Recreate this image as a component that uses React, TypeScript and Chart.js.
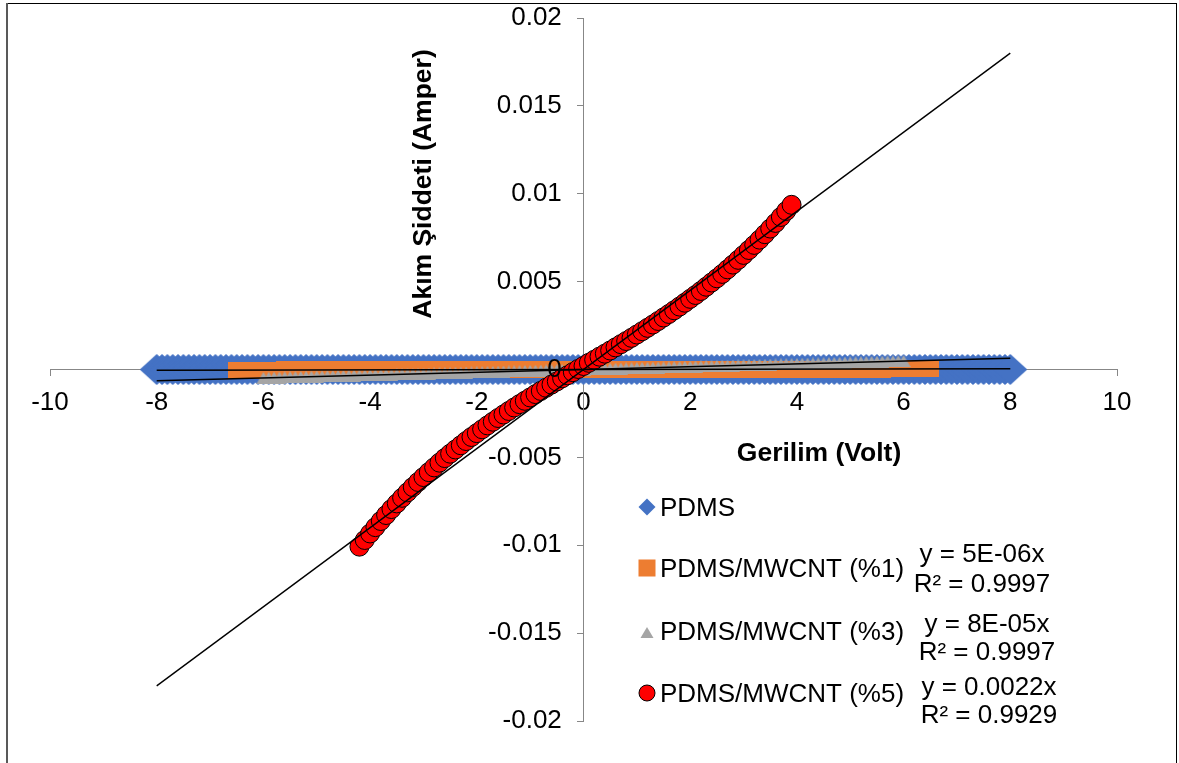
import React, { useEffect, useRef } from 'react';
import { Chart, registerables } from 'chart.js';

Chart.register(...registerables);

// ---------------- data ----------------
const seriesNames = ['PDMS', 'PDMS/MWCNT (%1)', 'PDMS/MWCNT (%3)', 'PDMS/MWCNT (%5)'];
const xAxisTitle = 'Gerilim (Volt)';
const yAxisTitle = 'Akım Şiddeti (Amper)';
const trendEquations = [
  null,
  ['y = 5E-06x', 'R² = 0.9997'],
  ['y = 8E-05x', 'R² = 0.9997'],
  ['y = 0.0022x', 'R² = 0.9929'],
];

// PDMS (voltage in V, current in nA)
const pdmsVoltage = [
  -8, -7.9, -7.8, -7.7, -7.6, -7.5, -7.4, -7.3, -7.2, -7.1,
  -7, -6.9, -6.8, -6.7, -6.6, -6.5, -6.4, -6.3, -6.2, -6.1,
  -6, -5.9, -5.8, -5.7, -5.6, -5.5, -5.4, -5.3, -5.2, -5.1,
  -5, -4.9, -4.8, -4.7, -4.6, -4.5, -4.4, -4.3, -4.2, -4.1,
  -4, -3.9, -3.8, -3.7, -3.6, -3.5, -3.4, -3.3, -3.2, -3.1,
  -3, -2.9, -2.8, -2.7, -2.6, -2.5, -2.4, -2.3, -2.2, -2.1,
  -2, -1.9, -1.8, -1.7, -1.6, -1.5, -1.4, -1.3, -1.2, -1.1,
  -1, -0.9, -0.8, -0.7, -0.6, -0.5, -0.4, -0.3, -0.2, -0.1,
  0,
  0.1, 0.2, 0.3, 0.4, 0.5, 0.6, 0.7, 0.8, 0.9, 1,
  1.1, 1.2, 1.3, 1.4, 1.5, 1.6, 1.7, 1.8, 1.9, 2,
  2.1, 2.2, 2.3, 2.4, 2.5, 2.6, 2.7, 2.8, 2.9, 3,
  3.1, 3.2, 3.3, 3.4, 3.5, 3.6, 3.7, 3.8, 3.9, 4,
  4.1, 4.2, 4.3, 4.4, 4.5, 4.6, 4.7, 4.8, 4.9, 5,
  5.1, 5.2, 5.3, 5.4, 5.5, 5.6, 5.7, 5.8, 5.9, 6,
  6.1, 6.2, 6.3, 6.4, 6.5, 6.6, 6.7, 6.8, 6.9, 7,
  7.1, 7.2, 7.3, 7.4, 7.5, 7.6, 7.7, 7.8, 7.9, 8,
];
const pdmsCurrentNanoA = [
  -12, -12, -12, -12, -11, -11, -11, -11, -11, -11,
  -10, -10, -10, -10, -10, -10, -10, -9, -9, -9,
  -9, -9, -9, -9, -8, -8, -8, -8, -8, -8,
  -8, -7, -7, -7, -7, -7, -7, -6, -6, -6,
  -6, -6, -6, -6, -5, -5, -5, -5, -5, -5,
  -5, -4, -4, -4, -4, -4, -4, -3, -3, -3,
  -3, -3, -3, -3, -2, -2, -2, -2, -2, -2,
  -2, -1, -1, -1, -1, -1, -1, 0, 0, 0,
  0,
  0, 0, 0, 1, 1, 1, 1, 1, 1, 2,
  2, 2, 2, 2, 2, 2, 3, 3, 3, 3,
  3, 3, 3, 4, 4, 4, 4, 4, 4, 5,
  5, 5, 5, 5, 5, 5, 6, 6, 6, 6,
  6, 6, 6, 7, 7, 7, 7, 7, 7, 8,
  8, 8, 8, 8, 8, 8, 9, 9, 9, 9,
  9, 9, 9, 10, 10, 10, 10, 10, 10, 11,
  11, 11, 11, 11, 11, 11, 12, 12, 12, 12,
];

// PDMS/MWCNT (%1) (voltage in V, current in µA)
const mwcnt1Voltage = [
  -6.5, -6.4, -6.3, -6.2, -6.1,
  -6, -5.9, -5.8, -5.7, -5.6, -5.5, -5.4, -5.3, -5.2, -5.1,
  -5, -4.9, -4.8, -4.7, -4.6, -4.5, -4.4, -4.3, -4.2, -4.1,
  -4, -3.9, -3.8, -3.7, -3.6, -3.5, -3.4, -3.3, -3.2, -3.1,
  -3, -2.9, -2.8, -2.7, -2.6, -2.5, -2.4, -2.3, -2.2, -2.1,
  -2, -1.9, -1.8, -1.7, -1.6, -1.5, -1.4, -1.3, -1.2, -1.1,
  -1, -0.9, -0.8, -0.7, -0.6, -0.5, -0.4, -0.3, -0.2, -0.1,
  0,
  0.1, 0.2, 0.3, 0.4, 0.5, 0.6, 0.7, 0.8, 0.9, 1,
  1.1, 1.2, 1.3, 1.4, 1.5, 1.6, 1.7, 1.8, 1.9, 2,
  2.1, 2.2, 2.3, 2.4, 2.5, 2.6, 2.7, 2.8, 2.9, 3,
  3.1, 3.2, 3.3, 3.4, 3.5, 3.6, 3.7, 3.8, 3.9, 4,
  4.1, 4.2, 4.3, 4.4, 4.5, 4.6, 4.7, 4.8, 4.9, 5,
  5.1, 5.2, 5.3, 5.4, 5.5, 5.6, 5.7, 5.8, 5.9, 6,
  6.1, 6.2, 6.3, 6.4, 6.5,
];
const mwcnt1CurrentMicroA = [
  -32.5, -32, -31.5, -31, -30.5,
  -30, -29.5, -29, -28.5, -28, -27.5, -27, -26.5, -26, -25.5,
  -25, -24.5, -24, -23.5, -23, -22.5, -22, -21.5, -21, -20.5,
  -20, -19.5, -19, -18.5, -18, -17.5, -17, -16.5, -16, -15.5,
  -15, -14.5, -14, -13.5, -13, -12.5, -12, -11.5, -11, -10.5,
  -10, -9.5, -9, -8.5, -8, -7.5, -7, -6.5, -6, -5.5,
  -5, -4.5, -4, -3.5, -3, -2.5, -2, -1.5, -1, -0.5,
  0,
  0.5, 1, 1.5, 2, 2.5, 3, 3.5, 4, 4.5, 5,
  5.5, 6, 6.5, 7, 7.5, 8, 8.5, 9, 9.5, 10,
  10.5, 11, 11.5, 12, 12.5, 13, 13.5, 14, 14.5, 15,
  15.5, 16, 16.5, 17, 17.5, 18, 18.5, 19, 19.5, 20,
  20.5, 21, 21.5, 22, 22.5, 23, 23.5, 24, 24.5, 25,
  25.5, 26, 26.5, 27, 27.5, 28, 28.5, 29, 29.5, 30,
  30.5, 31, 31.5, 32, 32.5,
];

// PDMS/MWCNT (%3) (voltage in V, current in µA)
const mwcnt3Voltage = [
  -6, -5.9, -5.8, -5.7, -5.6, -5.5, -5.4, -5.3, -5.2, -5.1,
  -5, -4.9, -4.8, -4.7, -4.6, -4.5, -4.4, -4.3, -4.2, -4.1,
  -4, -3.9, -3.8, -3.7, -3.6, -3.5, -3.4, -3.3, -3.2, -3.1,
  -3, -2.9, -2.8, -2.7, -2.6, -2.5, -2.4, -2.3, -2.2, -2.1,
  -2, -1.9, -1.8, -1.7, -1.6, -1.5, -1.4, -1.3, -1.2, -1.1,
  -1, -0.9, -0.8, -0.7, -0.6, -0.5, -0.4, -0.3, -0.2, -0.1,
  0,
  0.1, 0.2, 0.3, 0.4, 0.5, 0.6, 0.7, 0.8, 0.9, 1,
  1.1, 1.2, 1.3, 1.4, 1.5, 1.6, 1.7, 1.8, 1.9, 2,
  2.1, 2.2, 2.3, 2.4, 2.5, 2.6, 2.7, 2.8, 2.9, 3,
  3.1, 3.2, 3.3, 3.4, 3.5, 3.6, 3.7, 3.8, 3.9, 4,
  4.1, 4.2, 4.3, 4.4, 4.5, 4.6, 4.7, 4.8, 4.9, 5,
  5.1, 5.2, 5.3, 5.4, 5.5, 5.6, 5.7, 5.8, 5.9, 6,
];
const mwcnt3CurrentMicroA = [
  -480, -472, -464, -456, -448, -440, -432, -424, -416, -408,
  -400, -392, -384, -376, -368, -360, -352, -344, -336, -328,
  -320, -312, -304, -296, -288, -280, -272, -264, -256, -248,
  -240, -232, -224, -216, -208, -200, -192, -184, -176, -168,
  -160, -152, -144, -136, -128, -120, -112, -104, -96, -88,
  -80, -72, -64, -56, -48, -40, -32, -24, -16, -8,
  0,
  8, 16, 24, 32, 40, 48, 56, 64, 72, 80,
  88, 96, 104, 112, 120, 128, 136, 144, 152, 160,
  168, 176, 184, 192, 200, 208, 216, 224, 232, 240,
  248, 256, 264, 272, 280, 288, 296, 304, 312, 320,
  328, 336, 344, 352, 360, 368, 376, 384, 392, 400,
  408, 416, 424, 432, 440, 448, 456, 464, 472, 480,
];

// PDMS/MWCNT (%5) (voltage in V, current in A)
const mwcnt5Voltage = [
  -4.2, -4.1,
  -4, -3.9, -3.8, -3.7, -3.6, -3.5, -3.4, -3.3, -3.2, -3.1,
  -3, -2.9, -2.8, -2.7, -2.6, -2.5, -2.4, -2.3, -2.2, -2.1,
  -2, -1.9, -1.8, -1.7, -1.6, -1.5, -1.4, -1.3, -1.2, -1.1,
  -1, -0.9, -0.8, -0.7, -0.6, -0.5, -0.4, -0.3, -0.2, -0.1,
  0,
  0.1, 0.2, 0.3, 0.4, 0.5, 0.6, 0.7, 0.8, 0.9, 1,
  1.1, 1.2, 1.3, 1.4, 1.5, 1.6, 1.7, 1.8, 1.9, 2,
  2.1, 2.2, 2.3, 2.4, 2.5, 2.6, 2.7, 2.8, 2.9, 3,
  3.1, 3.2, 3.3, 3.4, 3.5, 3.6, 3.7, 3.8, 3.9,
];
const mwcnt5Current = [
  -0.01008, -0.0097,
  -0.00933, -0.00897, -0.00862, -0.00828, -0.00794, -0.00762, -0.0073, -0.00699, -0.00669, -0.0064,
  -0.00612, -0.00584, -0.00557, -0.0053, -0.00504, -0.00479, -0.00455, -0.00431, -0.00407, -0.00384,
  -0.00362, -0.0034, -0.00318, -0.00297, -0.00276, -0.00256, -0.00236, -0.00216, -0.00197, -0.00178,
  -0.00159, -0.0014, -0.00122, -0.00104, -0.00086, -0.00068, -0.0005, -0.00033, -0.00015, 0.00003,
  0.0002,
  0.00038, 0.00055, 0.00073, 0.0009, 0.00108, 0.00126, 0.00144, 0.00162, 0.0018, 0.00199,
  0.00218, 0.00237, 0.00256, 0.00276, 0.00296, 0.00316, 0.00337, 0.00358, 0.0038, 0.00402,
  0.00424, 0.00447, 0.00471, 0.00495, 0.00519, 0.00544, 0.0057, 0.00597, 0.00624, 0.00652,
  0.0068, 0.00709, 0.00739, 0.0077, 0.00802, 0.00834, 0.00868, 0.00902, 0.00937,
];

// Linear trendlines (end points)
const trendVoltage = [-8, 8];
const trend1Current = [-0.00004, 0.00004];
const trend3Current = [-0.00064, 0.00064];
const trend5Current = [-0.018, 0.018];

// axis ranges
const xMin = -10, xMax = 10, xStep = 2;
const yMin = -0.02, yMax = 0.02, yStep = 0.005;

// ---------------- styles ----------------
const FONT = '"Liberation Sans", Arial, sans-serif';
const AXIS_COLOR = '#878787';
const BLUE = '#4472C4';
const ORANGE = '#ED7D31';
const GRAY = '#A5A5A5';
const RED = '#FF0000';

function makeMarker(w: number, h: number, draw: (c: CanvasRenderingContext2D) => void) {
  const c = document.createElement('canvas');
  c.width = w;
  c.height = h;
  const ctx = c.getContext('2d')!;
  draw(ctx);
  return c;
}

function diamondPath(ctx: CanvasRenderingContext2D, cx: number, cy: number, w: number, h: number) {
  ctx.beginPath();
  ctx.moveTo(cx - w / 2, cy);
  ctx.lineTo(cx, cy - h / 2);
  ctx.lineTo(cx + w / 2, cy);
  ctx.lineTo(cx, cy + h / 2);
  ctx.closePath();
}
function trianglePath(ctx: CanvasRenderingContext2D, cx: number, cy: number, w: number, h: number) {
  ctx.beginPath();
  ctx.moveTo(cx, cy - h / 2);
  ctx.lineTo(cx + w / 2, cy + h / 2);
  ctx.lineTo(cx - w / 2, cy + h / 2);
  ctx.closePath();
}

const toPoints = (xs: number[], ys: number[], scale = 1) => xs.map((x, i) => ({ x, y: ys[i] * scale }));

export default function App() {
  const canvasRef = useRef<HTMLCanvasElement | null>(null);

  useEffect(() => {
    const canvas = canvasRef.current;
    if (!canvas) return;

    const diamond = makeMarker(34, 31, (c) => {
      c.fillStyle = BLUE;
      diamondPath(c, 17, 15.5, 34, 31);
      c.fill();
    });
    const square = makeMarker(17, 17, (c) => {
      c.fillStyle = ORANGE;
      c.fillRect(0, 0, 17, 17);
    });
    const triangle = makeMarker(14, 12, (c) => {
      c.fillStyle = GRAY;
      trianglePath(c, 7, 6, 14, 12);
      c.fill();
    });

    const overlay = {
      id: 'overlay',
      afterDraw(chart: any) {
        const ctx = chart.ctx as CanvasRenderingContext2D;
        ctx.save();
        // outer frame
        ctx.fillStyle = '#000';
        ctx.fillRect(6, 3, 1171, 1);
        ctx.fillRect(1176, 3, 1, 760);
        ctx.fillStyle = '#595959';
        ctx.fillRect(6, 3, 2, 760);

        // axis titles
        ctx.fillStyle = '#000';
        ctx.font = `bold 26.5px ${FONT}`;
        ctx.textAlign = 'center';
        ctx.textBaseline = 'alphabetic';
        ctx.fillText(xAxisTitle, 819, 461);
        ctx.save();
        ctx.translate(431, 184);
        ctx.rotate(-Math.PI / 2);
        ctx.fillText(yAxisTitle, 0, 0);
        ctx.restore();

        // legend
        const mx = 647;
        const textX = 660;
        const rowBase = [516, 577, 640, 702];
        const markerY = [507, 568, 632.5, 693];
        ctx.fillStyle = BLUE;
        diamondPath(ctx, mx, markerY[0], 17, 17);
        ctx.fill();
        ctx.fillStyle = ORANGE;
        ctx.fillRect(mx - 8.5, markerY[1] - 8.5, 17, 17);
        ctx.fillStyle = GRAY;
        trianglePath(ctx, mx, markerY[2], 13, 11);
        ctx.fill();
        ctx.beginPath();
        ctx.arc(mx, markerY[3], 8, 0, Math.PI * 2);
        ctx.fillStyle = RED;
        ctx.fill();
        ctx.lineWidth = 1;
        ctx.strokeStyle = '#000';
        ctx.stroke();

        ctx.fillStyle = '#000';
        ctx.font = `26px ${FONT}`;
        ctx.textAlign = 'left';
        ctx.textBaseline = 'alphabetic';
        seriesNames.forEach((name, i) => ctx.fillText(name, textX, rowBase[i]));

        const eqX = [0, 982, 987, 989];
        const eqBase = [[0, 0], [562, 592], [632, 660], [695, 723]];
        ctx.textAlign = 'center';
        trendEquations.forEach((eq, i) => {
          if (!eq) return;
          ctx.fillText(eq[0], eqX[i], eqBase[i][0]);
          ctx.fillText(eq[1], eqX[i], eqBase[i][1]);
        });
        ctx.restore();
      },
    };

    const fmt = (v: number) => String(parseFloat(Number(v).toFixed(4)));
    // y labels sit right-aligned on the axis line; trailing spaces give the gap to the tick marks
    const yGap = '   ';

    const chart = new Chart(canvas, {
      type: 'scatter',
      data: {
        datasets: [
          {
            label: 'trend %5',
            data: toPoints(trendVoltage, trend5Current),
            showLine: true,
            borderColor: '#000',
            borderWidth: 1.4,
            pointRadius: 0,
            order: 0,
          },
          {
            label: 'trend %3',
            data: toPoints(trendVoltage, trend3Current),
            showLine: true,
            borderColor: '#000',
            borderWidth: 1.4,
            pointRadius: 0,
            order: 0,
          },
          {
            label: 'trend %1',
            data: toPoints(trendVoltage, trend1Current),
            showLine: true,
            borderColor: '#000',
            borderWidth: 1.4,
            pointRadius: 0,
            order: 0,
          },
          {
            label: seriesNames[3],
            data: toPoints(mwcnt5Voltage, mwcnt5Current),
            pointStyle: 'circle',
            pointRadius: 9.5,
            backgroundColor: RED,
            borderColor: '#000',
            borderWidth: 1,
            order: 1,
          },
          {
            label: seriesNames[2],
            data: toPoints(mwcnt3Voltage, mwcnt3CurrentMicroA, 1e-6),
            pointStyle: triangle,
            order: 2,
          },
          {
            label: seriesNames[1],
            data: toPoints(mwcnt1Voltage, mwcnt1CurrentMicroA, 1e-6),
            pointStyle: square,
            order: 3,
          },
          {
            label: seriesNames[0],
            data: toPoints(pdmsVoltage, pdmsCurrentNanoA, 1e-9),
            pointStyle: diamond,
            order: 4,
          },
        ],
      },
      options: {
        animation: false,
        responsive: false,
        devicePixelRatio: 1,
        events: [],
        layout: { padding: { left: 50, right: 62, top: 18, bottom: 42 } },
        plugins: {
          legend: { display: false },
          tooltip: { enabled: false },
          title: { display: false },
        },
        scales: {
          x: {
            type: 'linear',
            min: xMin,
            max: xMax,
            position: { y: 0 },
            ticks: {
              stepSize: xStep,
              color: '#000',
              font: { family: FONT, size: 26 },
              padding: 12,
              maxRotation: 0,
              autoSkip: false,
              callback: (v: any) => fmt(v),
            },
            grid: { display: true, drawOnChartArea: false, drawTicks: true, tickLength: 6, color: AXIS_COLOR, lineWidth: 1 },
            border: { display: true, color: AXIS_COLOR, width: 1 },
          },
          y: {
            type: 'linear',
            min: yMin,
            max: yMax,
            position: { x: 0 },
            ticks: {
              stepSize: yStep,
              color: '#000',
              font: { family: FONT, size: 26 },
              padding: 0,
              z: 1,
              autoSkip: false,
              callback: (v: any) => fmt(v) + yGap,
            },
            grid: { display: true, drawOnChartArea: false, drawTicks: true, tickLength: 6, color: AXIS_COLOR, lineWidth: 1 },
            border: { display: true, color: AXIS_COLOR, width: 1 },
          },
        },
      } as any,
      plugins: [overlay],
    });

    return () => chart.destroy();
  }, []);

  return (
    <div style={{ position: 'absolute', left: 0, top: 0, width: 1179, height: 763, background: '#fff', overflow: 'hidden' }}>
      <canvas ref={canvasRef} width={1179} height={763} style={{ display: 'block', width: 1179, height: 763 }} />
    </div>
  );
}
